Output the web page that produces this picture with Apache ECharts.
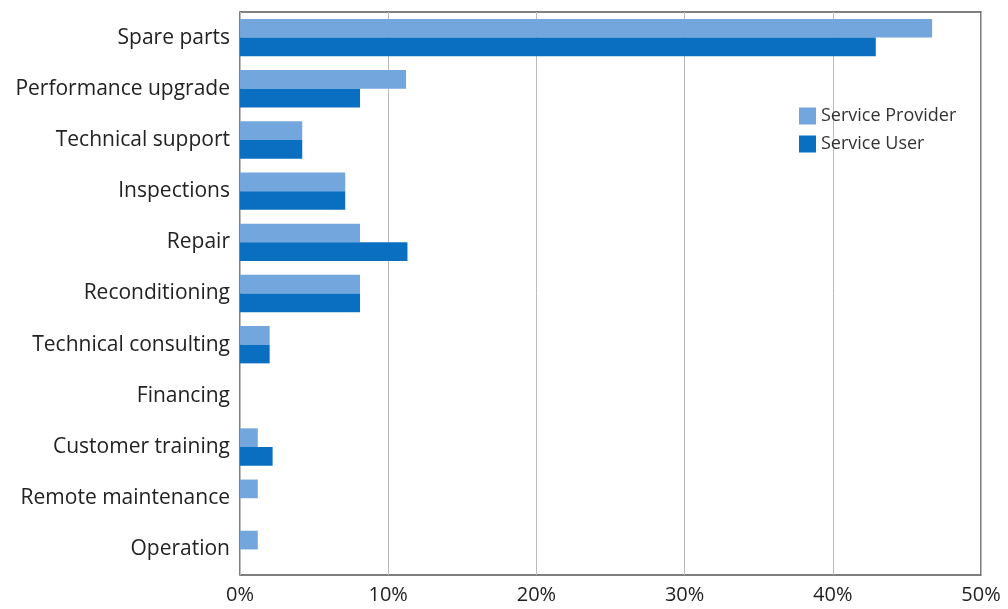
<!DOCTYPE html>
<html><head><meta charset="utf-8">
<script src="https://cdn.jsdelivr.net/npm/echarts@6/dist/echarts.min.js"></script>
<style>html,body{margin:0;padding:0;background:#fff}#c{width:1008px;height:609px}</style>
</head><body><div id="c"></div>
<script>
const categories = ["Spare parts","Performance upgrade","Technical support","Inspections","Repair","Reconditioning","Technical consulting","Financing","Customer training","Remote maintenance","Operation"];
const providerValues = [46.7, 11.2, 4.2, 7.1, 8.1, 8.1, 2.0, 0, 1.2, 1.2, 1.2];
const userValues = [42.9, 8.1, 4.2, 7.1, 11.3, 8.1, 2.0, 0, 2.2, 0, 0];
const seriesNames = ["Service Provider", "Service User"];
const xTicks = [0, 10, 20, 30, 40, 50];

const font = "'Open Sans', 'Noto Sans', sans-serif";
const chart = echarts.init(document.getElementById('c'));
chart.setOption({
  animation: false,
  grid: {left: 240, right: 27, top: 12, bottom: 34, show: true, borderColor: '#555', borderWidth: 1.5},
  legend: {
    orient: 'vertical', left: 794, top: 102, itemWidth: 17, itemHeight: 17, itemGap: 10,
    icon: 'rect', textStyle: {fontFamily: font, fontSize: 18, color: '#333'},
    data: seriesNames
  },
  xAxis: {
    type: 'value', min: xTicks[0], max: xTicks[xTicks.length-1], interval: 10,
    axisLine: {show: false}, axisTick: {show: false},
    splitLine: {show: true, lineStyle: {color: '#bbb', width: 1}},
    axisLabel: {formatter: v => v + '%', fontFamily: font, fontSize: 20, color: '#222', margin: 10}
  },
  yAxis: {
    type: 'category', data: categories, inverse: true,
    axisLine: {show: false}, axisTick: {show: false},
    axisLabel: {fontFamily: font, fontSize: 21, color: '#222', margin: 10}
  },
  series: [
    {name: seriesNames[0], type: 'bar', data: providerValues, itemStyle: {color: '#72a6dd'}, barGap: '0%', barCategoryGap: '27%'},
    {name: seriesNames[1], type: 'bar', data: userValues, itemStyle: {color: '#0b6fc1'}, barGap: '0%', barCategoryGap: '27%'}
  ]
});
</script></body></html>
